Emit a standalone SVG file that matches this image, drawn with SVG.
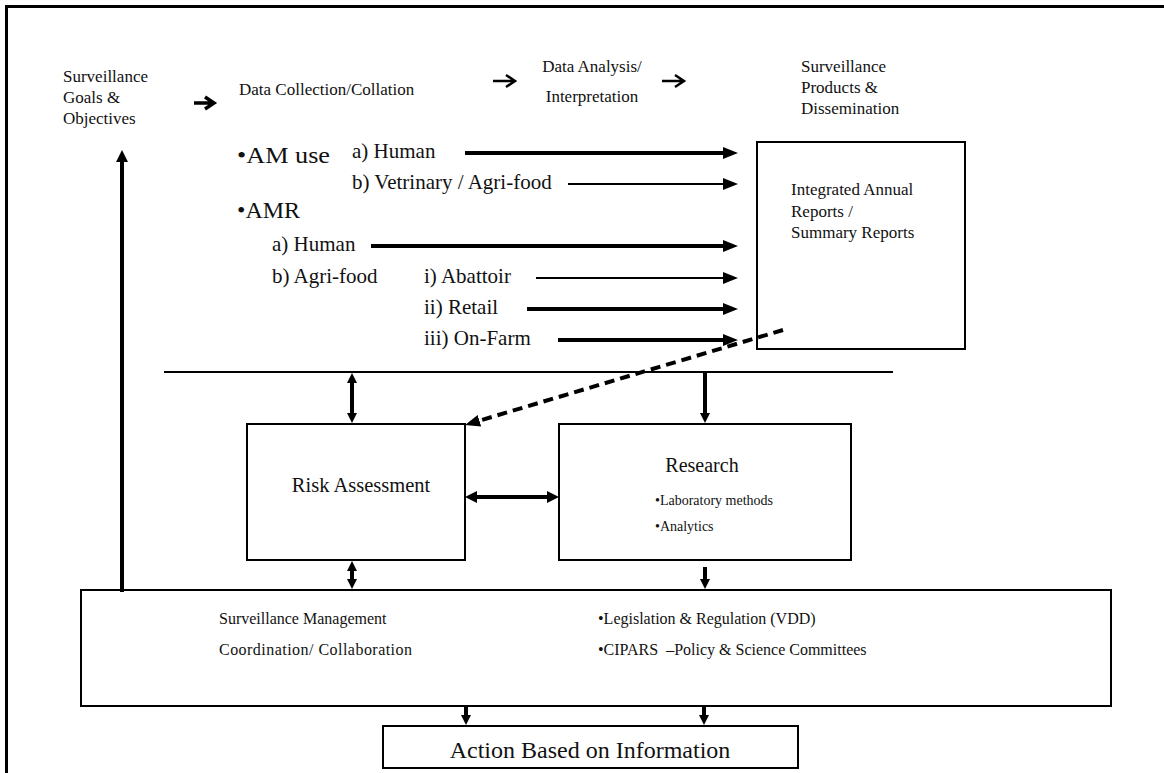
<svg xmlns="http://www.w3.org/2000/svg" width="1164" height="773" viewBox="0 0 1164 773">
<style>
text{font-family:"Liberation Serif","Times New Roman",serif;fill:#111}
.h{font-size:17px}
.li{font-size:21px}
.bl{font-size:24px}
.sm{font-size:14px}
.bx{font-size:16px}
.box{fill:#fff;stroke:#000;stroke-width:2}
.c{stroke:#000;fill:none}
.thick{stroke-width:4}
.thin{stroke-width:2}
</style>
<defs>
<marker id="ah" markerUnits="userSpaceOnUse" markerWidth="16" markerHeight="13" refX="5" refY="6" orient="auto-start-reverse" viewBox="0 0 16 13">
<path d="M0,0 L15,6 L0,12 z" fill="#000"/>
</marker>
<marker id="am" markerUnits="userSpaceOnUse" markerWidth="13" markerHeight="13" refX="4" refY="6" orient="auto-start-reverse" viewBox="0 0 13 13">
<path d="M0,0 L12,6 L0,12 z" fill="#000"/>
</marker>
<marker id="as" markerUnits="userSpaceOnUse" markerWidth="11" markerHeight="11" refX="3" refY="5" orient="auto-start-reverse" viewBox="0 0 11 11">
<path d="M0,0 L10,5 L0,10 z" fill="#000"/>
</marker>
</defs>
<rect width="1164" height="773" fill="#fff"/>
<g id="frame">
<line x1="5" y1="6.5" x2="1164" y2="6.5" stroke="#000" stroke-width="3"/>
<line x1="6.5" y1="5" x2="6.5" y2="773" stroke="#000" stroke-width="3"/>
</g>
<g id="header-goals"><text class="h" x="63" y="82">Surveillance</text><text class="h" x="63" y="103">Goals &amp;</text><text class="h" x="63" y="124">Objectives</text></g>
<g id="header-collection"><text class="h" x="239" y="95">Data Collection/Collation</text></g>
<g id="header-analysis"><text class="h" x="592" y="72" text-anchor="middle">Data Analysis/</text><text class="h" x="592" y="102" text-anchor="middle">Interpretation</text></g>
<g id="header-products"><text class="h" x="801" y="72">Surveillance</text><text class="h" x="801" y="93">Products &amp;</text><text class="h" x="801" y="114">Dissemination</text></g>
<g id="data-list">
<text class="bl" x="237" y="163" textLength="93" lengthAdjust="spacingAndGlyphs">•AM use</text>
<text class="li" x="352" y="158">a) Human</text>
<text class="li" x="352" y="189">b) Vetrinary / Agri-food</text>
<text class="bl" x="237" y="218">•AMR</text>
<text class="li" x="272" y="251">a) Human</text>
<text class="li" x="272" y="283">b) Agri-food</text>
<text class="li" x="424" y="283">i) Abattoir</text>
<text class="li" x="424" y="314">ii) Retail</text>
<text class="li" x="424" y="345">iii) On-Farm</text>
</g>
<g id="reports"><rect class="box" x="757" y="142" width="208" height="207"/><text class="h" x="791" y="195">Integrated Annual</text><text class="h" x="791" y="217">Reports /</text><text class="h" x="791" y="238">Summary Reports</text></g>
<g id="risk"><rect class="box" x="247" y="424" width="218" height="136"/><text class="li" x="361" y="492" text-anchor="middle" style="font-size:20.5px">Risk Assessment</text></g>
<g id="research"><rect class="box" x="559" y="424" width="292" height="136"/><text x="702" y="472" text-anchor="middle" style="font-size:20px">Research</text><text class="sm" x="655" y="505">•Laboratory methods</text><text class="sm" x="655" y="531">•Analytics</text></g>
<g id="management"><rect class="box" x="81" y="590" width="1030" height="116"/><text class="bx" x="219" y="624">Surveillance Management</text><text class="bx" x="219" y="655" textLength="193">Coordination/ Collaboration</text><text class="bx" x="598" y="624">•Legislation &amp; Regulation (VDD)</text><text class="bx" x="598" y="655" xml:space="preserve">•CIPARS  –Policy &amp; Science Committees</text></g>
<g id="action"><rect class="box" x="383" y="726" width="415" height="42"/><text x="590" y="758" text-anchor="middle" style="font-size:24px">Action Based on Information</text></g>
<g id="connectors">
<path class="c" d="M194,103 H212 M205,97 L214,103 L205,109" stroke-width="3.5"/>
<path class="c" d="M493,81 H514 M506,75 L515,81 L506,87" stroke-width="2.5"/>
<path class="c" d="M662,81 H683 M675,75 L684,81 L675,87" stroke-width="2.5"/>
<line class="c thick" x1="465" y1="153" x2="728" y2="153" marker-end="url(#ah)"/>
<line class="c thin" x1="568" y1="184" x2="728" y2="184" marker-end="url(#ah)"/>
<line class="c thick" x1="371" y1="246" x2="728" y2="246" marker-end="url(#ah)"/>
<line class="c thin" x1="536" y1="278" x2="728" y2="278" marker-end="url(#ah)"/>
<line class="c thick" x1="527" y1="309" x2="728" y2="309" marker-end="url(#ah)"/>
<line class="c thick" x1="558" y1="340" x2="728" y2="340" marker-end="url(#ah)"/>
<line class="c" x1="783" y1="330" x2="474.6" y2="422.1" stroke-width="4" stroke-dasharray="10 6" marker-end="url(#ah)"/>
<line class="c" x1="164" y1="372" x2="893" y2="372" stroke-width="2"/>
<line class="c thick" x1="352" y1="380" x2="352" y2="416" marker-start="url(#as)" marker-end="url(#as)"/>
<line class="c thick" x1="705" y1="372" x2="705" y2="416" marker-end="url(#as)"/>
<line class="c thick" x1="473" y1="497" x2="551" y2="497" marker-start="url(#am)" marker-end="url(#am)"/>
<line class="c thick" x1="352" y1="568" x2="352" y2="582" marker-start="url(#as)" marker-end="url(#as)"/>
<line class="c thick" x1="705" y1="567" x2="705" y2="582" marker-end="url(#as)"/>
<line class="c thick" x1="122" y1="592" x2="122" y2="158" marker-end="url(#am)"/>
<line class="c thick" x1="466" y1="706" x2="466" y2="718" marker-end="url(#as)"/>
<line class="c thick" x1="704" y1="706" x2="704" y2="718" marker-end="url(#as)"/>
</g>
</svg>
